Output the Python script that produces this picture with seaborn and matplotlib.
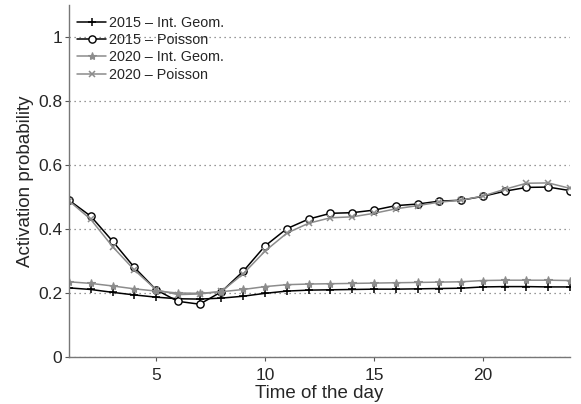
import numpy as np
import pandas as pd
import matplotlib
matplotlib.use("Agg")
import matplotlib.pyplot as plt
import seaborn as sns

hours = list(range(1, 25))
geom_2015 = [0.216, 0.211, 0.202, 0.194, 0.187, 0.182, 0.181, 0.184, 0.190, 0.199, 0.206, 0.209,
             0.210, 0.211, 0.212, 0.212, 0.213, 0.214, 0.215, 0.219, 0.220, 0.220, 0.219, 0.219]
poisson_2015 = [0.490, 0.440, 0.362, 0.280, 0.210, 0.174, 0.165, 0.204, 0.268, 0.347, 0.401, 0.431,
                0.449, 0.451, 0.459, 0.473, 0.478, 0.487, 0.490, 0.502, 0.518, 0.530, 0.531, 0.520]
geom_2020 = [0.235, 0.230, 0.222, 0.213, 0.206, 0.200, 0.199, 0.204, 0.211, 0.220, 0.226, 0.228,
             0.229, 0.230, 0.231, 0.232, 0.233, 0.234, 0.235, 0.239, 0.240, 0.240, 0.240, 0.239]
poisson_2020 = [0.488, 0.430, 0.345, 0.272, 0.210, 0.195, 0.197, 0.205, 0.260, 0.331, 0.387, 0.418,
                0.435, 0.438, 0.449, 0.463, 0.473, 0.484, 0.490, 0.503, 0.524, 0.543, 0.544, 0.527]
labels = ["2015 \u2013 Int. Geom.", "2015 \u2013 Poisson", "2020 \u2013 Int. Geom.", "2020 \u2013 Poisson"]

sns.set_style("white")
plt.rcParams['font.family'] = ['Liberation Sans', 'DejaVu Sans']

fig = plt.figure(figsize=(5.81, 4.04), dpi=100)
ax = fig.add_axes([69/581, 47/404, 501/581, 352/404])

gray = "#8c8c8c"
styles = [
    (geom_2015, dict(color="black", marker="+", markersize=6, mec="black", mew=1.1)),
    (poisson_2015, dict(color="black", marker="o", markersize=5.2, mfc="white", mec="black", mew=1.0)),
    (geom_2020, dict(color=gray, marker="*", markersize=6, mec=gray, mfc=gray, mew=0.8)),
    (poisson_2020, dict(color=gray, marker="x", markersize=4.5, mec=gray, mew=1.1)),
]
for (vals, kw), lab in zip(styles, labels):
    df = pd.DataFrame({"hour": hours, "p": vals})
    sns.lineplot(data=df, x="hour", y="p", ax=ax, label=lab, linewidth=1.1, **kw)

ax.set_xlim(1, 24)
ax.set_ylim(0, 1.1)
ax.set_xticks([5, 10, 15, 20])
ax.set_yticks([0, 0.2, 0.4, 0.6, 0.8, 1.0])
ax.set_yticklabels(["0", "0.2", "0.4", "0.6", "0.8", "1"])
for yv in [0, 0.2, 0.4, 0.6, 0.8, 1.0]:
    ax.axhline(yv, color="#777777", linestyle=(0, (1, 3)), linewidth=0.9, zorder=0)

for s in ["top", "right"]:
    ax.spines[s].set_visible(False)
for s in ["left", "bottom"]:
    ax.spines[s].set_color("#777777")
    ax.spines[s].set_linewidth(1.0)
ax.tick_params(axis="both", direction="out", length=3, width=0.8, color="#555555",
               labelsize=12.5, bottom=True, left=True)
ax.tick_params(axis="x", pad=5)
ax.tick_params(axis="y", pad=2)
ax.set_xlabel("Time of the day", fontsize=13.5, labelpad=1.5)
ax.set_ylabel("Activation probability", fontsize=13.5, labelpad=3)

leg = ax.legend(loc="upper left", frameon=False, fontsize=10.4, handlelength=2.0,
                borderaxespad=0.0, labelspacing=0.22, handletextpad=0.2,
                bbox_to_anchor=(0.005, 0.985))

fig.savefig("out.png", dpi=100)
